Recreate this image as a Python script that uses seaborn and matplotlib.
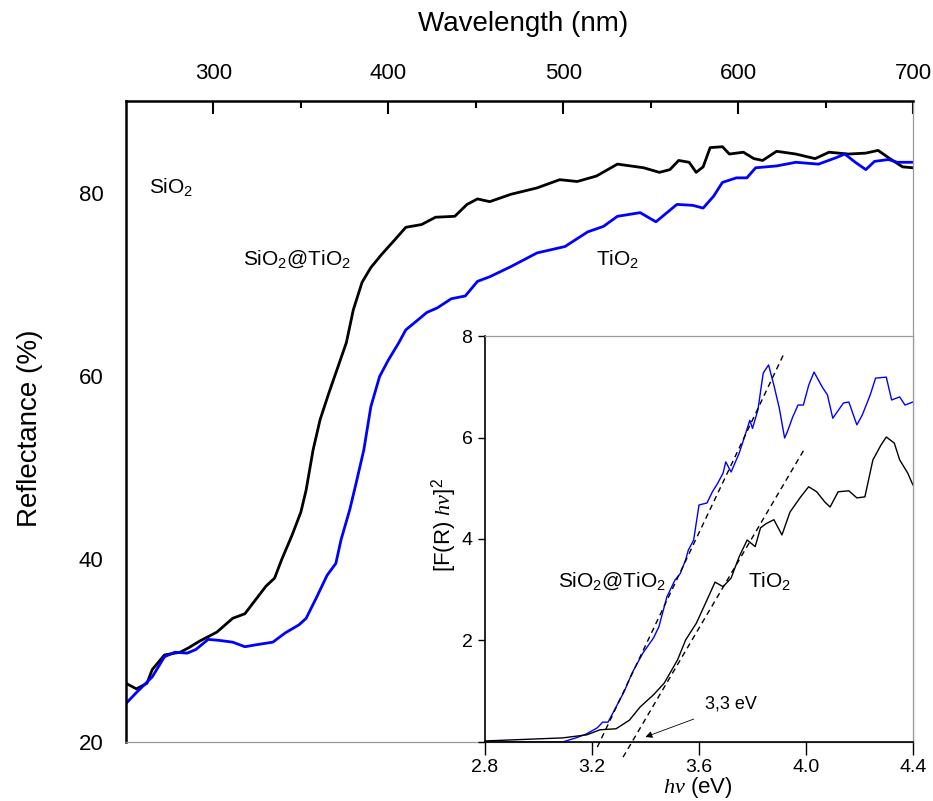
import numpy as np
import pandas as pd
import matplotlib
matplotlib.use("Agg")
import matplotlib.pyplot as plt
import seaborn as sns
from matplotlib.ticker import MultipleLocator, FixedLocator, FormatStrFormatter, FuncFormatter

# main spectrum: reflectance vs wavelength
wl_core = [250, 256, 262, 265, 272, 281, 286, 292, 302, 311, 318, 324, 330, 335, 339, 345, 350,
           353, 357, 361, 366, 370, 376, 380, 385, 390, 396, 404, 410, 419, 427, 438, 445, 451,
           458, 470, 485, 498, 508, 519, 531, 546, 555, 561, 566, 572, 576, 580, 584, 591, 595,
           603, 609, 614, 622, 633, 644, 652, 663, 673, 680, 686, 694, 700]
refl_core = [26.4, 25.8, 26.4, 27.9, 29.5, 29.8, 30.3, 31.0, 32.0, 33.5, 34.0, 35.5, 37.0, 37.9,
             39.9, 42.6, 45.1, 47.5, 51.9, 55.2, 58.1, 60.3, 63.6, 67.2, 70.2, 71.8, 73.2, 74.9,
             76.2, 76.5, 77.3, 77.4, 78.7, 79.3, 79.0, 79.8, 80.5, 81.4, 81.2, 81.8, 83.1, 82.7,
             82.2, 82.5, 83.5, 83.3, 82.2, 82.8, 84.9, 85.0, 84.2, 84.4, 83.7, 83.5, 84.5, 84.2,
             83.7, 84.4, 84.2, 84.3, 84.6, 83.8, 82.8, 82.7]

wl_tio2 = [250, 256, 265, 272, 278, 285, 290, 297, 303, 311, 318, 324, 334, 341, 349, 353, 359,
           365, 370, 373, 378, 382, 386, 390, 395, 400, 406, 410, 417, 422, 428, 436, 444, 451,
           458, 470, 485, 501, 514, 523, 531, 544, 553, 565, 574, 580, 586, 591, 599, 605, 610,
           622, 633, 646, 656, 661, 667, 673, 678, 686, 691, 700]
refl_tio2 = [24.2, 25.4, 27.1, 29.3, 29.8, 29.7, 30.1, 31.2, 31.1, 30.9, 30.4, 30.6, 30.9, 31.9,
             32.8, 33.5, 35.8, 38.2, 39.5, 42.1, 45.4, 48.6, 51.9, 56.6, 59.9, 61.7, 63.6, 65.0,
             66.1, 66.9, 67.4, 68.4, 68.7, 70.3, 70.8, 71.9, 73.4, 74.1, 75.7, 76.3, 77.4, 77.8,
             76.8, 78.7, 78.6, 78.3, 79.6, 81.1, 81.6, 81.6, 82.7, 82.9, 83.3, 83.1, 83.8, 84.2,
             83.3, 82.5, 83.4, 83.6, 83.3, 83.3]

# inset: Kubelka-Munk plot
ev_blue = [2.80, 3.09, 3.14, 3.18, 3.22, 3.24, 3.26, 3.29, 3.32, 3.35, 3.39, 3.43, 3.45, 3.48,
           3.51, 3.53, 3.55, 3.56, 3.58, 3.60, 3.63, 3.65, 3.67, 3.69, 3.70, 3.72, 3.75, 3.77,
           3.79, 3.80, 3.82, 3.84, 3.86, 3.88, 3.90, 3.92, 3.93, 3.95, 3.97, 3.99, 4.01, 4.03,
           4.06, 4.08, 4.10, 4.14, 4.16, 4.19, 4.21, 4.24, 4.26, 4.30, 4.32, 4.35, 4.37, 4.40]
km_blue = [0.0, 0.0, 0.08, 0.16, 0.28, 0.39, 0.39, 0.69, 0.99, 1.36, 1.75, 2.05, 2.27, 2.86,
           3.19, 3.32, 3.59, 3.78, 3.98, 4.67, 4.71, 4.93, 5.10, 5.30, 5.52, 5.32, 5.69, 6.01,
           6.34, 6.18, 6.54, 7.27, 7.43, 7.03, 6.58, 5.99, 6.11, 6.40, 6.64, 6.64, 7.03, 7.29,
           7.00, 6.84, 6.38, 6.68, 6.70, 6.25, 6.44, 6.84, 7.17, 7.19, 6.74, 6.80, 6.64, 6.70]

ev_black = [2.80, 3.09, 3.18, 3.23, 3.29, 3.34, 3.38, 3.43, 3.47, 3.52, 3.55, 3.59, 3.63, 3.66,
            3.69, 3.72, 3.75, 3.78, 3.81, 3.83, 3.85, 3.88, 3.91, 3.94, 3.98, 4.01, 4.04, 4.07,
            4.09, 4.12, 4.16, 4.19, 4.22, 4.25, 4.28, 4.30, 4.33, 4.35, 4.38, 4.40]
km_black = [0.02, 0.08, 0.14, 0.24, 0.26, 0.43, 0.69, 0.93, 1.16, 1.62, 2.01, 2.34, 2.80, 3.15,
            3.06, 3.23, 3.65, 3.98, 3.85, 4.22, 4.30, 4.38, 4.08, 4.53, 4.83, 5.03, 4.93, 4.73,
            4.63, 4.93, 4.95, 4.81, 4.83, 5.56, 5.85, 6.01, 5.89, 5.56, 5.30, 5.06]

# linear fits (band gap extrapolation)
fit_blue_x = [3.22, 3.92]
fit_blue_y = [-0.1, 7.68]
fit_black_x = [3.316, 3.996]
fit_black_y = [-0.3, 5.79]

sns.set_style("white")
plt.rcParams['font.family'] = ['Liberation Sans', 'DejaVu Sans']
plt.rcParams['mathtext.fontset'] = 'custom'
plt.rcParams['mathtext.rm'] = 'Liberation Sans'
plt.rcParams['mathtext.it'] = 'Liberation Serif:italic'
plt.rcParams['mathtext.bf'] = 'Liberation Sans:bold'
for key in ['text.color', 'axes.labelcolor', 'xtick.color', 'ytick.color']:
    plt.rcParams[key] = 'black'

fig = plt.figure(figsize=(9.33, 8.01), dpi=100)
ax = fig.add_axes([0.135, 0.0737, 0.8436, 0.8003])

sns.lineplot(x=wl_core, y=refl_core, ax=ax, color='black', linewidth=2.0, estimator=None, sort=False)
sns.lineplot(x=wl_tio2, y=refl_tio2, ax=ax, color='#0000ff', linewidth=2.0, estimator=None, sort=False)

ax.set_xlim(250, 700)
ax.set_ylim(20, 90)
ax.xaxis.tick_top()
ax.xaxis.set_label_position('top')
ax.xaxis.set_major_locator(FixedLocator([300, 400, 500, 600, 700]))
ax.xaxis.set_minor_locator(FixedLocator([350, 450, 550, 650]))
ax.yaxis.set_major_locator(FixedLocator([20, 40, 60, 80]))
ax.yaxis.set_minor_locator(FixedLocator([30, 50, 70]))
ax.tick_params(axis='x', which='major', direction='in', length=9, width=1.5, labelsize=16, pad=12.5)
ax.tick_params(axis='x', which='minor', direction='in', length=5, width=1.5)
ax.tick_params(axis='y', which='major', direction='out', length=10, width=1.5, labelsize=16, pad=6)
ax.tick_params(axis='y', which='minor', direction='out', length=6, width=1.5)
ax.tick_params(bottom=False, right=False)

for side in ['top', 'left']:
    ax.spines[side].set_color('black')
    ax.spines[side].set_linewidth(1.8)
for side in ['bottom', 'right']:
    ax.spines[side].set_color('#9a9a9a')
    ax.spines[side].set_linewidth(0.9)

ax.set_xlabel('Wavelength (nm)', fontsize=20)
ax.set_ylabel('Reflectance (%)', fontsize=20)
ax.xaxis.set_label_coords(0.505, 1.12)
ax.xaxis.label.set_va('center')
ax.yaxis.set_label_coords(-0.122, 0.49)
ax.yaxis.label.set_va('center')

ax.text(263, 79.9, 'SiO$_2$', fontsize=15, va='baseline', ha='left')
ax.text(317, 72.1, 'SiO$_2$@TiO$_2$', fontsize=15, va='baseline', ha='left')
ax.text(518.5, 72.1, 'TiO$_2$', fontsize=15, va='baseline', ha='left')

# inset
axin = fig.add_axes([0.5198, 0.0737, 0.4588, 0.5068])
sns.lineplot(x=ev_blue, y=km_blue, ax=axin, color='#0000ff', linewidth=1.0, estimator=None, sort=False)
sns.lineplot(x=ev_black, y=km_black, ax=axin, color='black', linewidth=1.0, estimator=None, sort=False)
axin.plot(fit_blue_x, fit_blue_y, color='black', linewidth=1.0, linestyle=(0, (4, 3)), clip_on=False)
axin.plot(fit_black_x, fit_black_y, color='black', linewidth=1.0, linestyle=(0, (4, 3)), clip_on=False)

axin.set_xlim(2.8, 4.4)
axin.set_ylim(0, 8)
axin.xaxis.set_major_locator(MultipleLocator(0.4))
axin.xaxis.set_minor_locator(MultipleLocator(0.2))
axin.yaxis.set_major_locator(FixedLocator([0, 2, 4, 6, 8]))
axin.yaxis.set_minor_locator(FixedLocator([1, 3, 5, 7]))
axin.xaxis.set_major_formatter(FormatStrFormatter('%.1f'))
axin.yaxis.set_major_formatter(FuncFormatter(lambda v, p: '' if v == 0 else '%d' % v))
axin.tick_params(axis='x', which='major', direction='out', length=9, width=1.0, labelsize=14, pad=3)
axin.tick_params(axis='x', which='minor', direction='out', length=5, width=1.0)
axin.tick_params(axis='y', which='major', direction='out', length=5, width=1.0, labelsize=14, pad=4)
axin.tick_params(axis='y', which='minor', direction='out', length=3, width=1.0)
axin.tick_params(bottom=True, left=True, top=False, right=False)
for side in ['bottom', 'left']:
    axin.spines[side].set_color('black')
    axin.spines[side].set_linewidth(1.2)
for side in ['top', 'right']:
    axin.spines[side].set_color('#9a9a9a')
    axin.spines[side].set_linewidth(0.9)

axin.set_xlabel(r'$h\nu$ (eV)', fontsize=16)
axin.set_ylabel(r'[F(R) $h\nu$]$^2$', fontsize=16)
axin.xaxis.set_label_coords(0.498, -0.113)
axin.xaxis.label.set_va('center')
axin.yaxis.set_label_coords(-0.096, 0.534)
axin.yaxis.label.set_va('center')

axin.text(3.073, 3.05, 'SiO$_2$@TiO$_2$', fontsize=15, va='baseline', ha='left')
axin.text(3.783, 3.05, 'TiO$_2$', fontsize=15, va='baseline', ha='left')
axin.text(3.622, 0.65, '3,3 eV', fontsize=13, va='baseline', ha='left')
axin.annotate('', xy=(3.39, 0.08), xytext=(3.59, 0.47),
              arrowprops=dict(arrowstyle='-|>', color='black', lw=0.6, mutation_scale=10))

fig.savefig('out.png', dpi=100)
